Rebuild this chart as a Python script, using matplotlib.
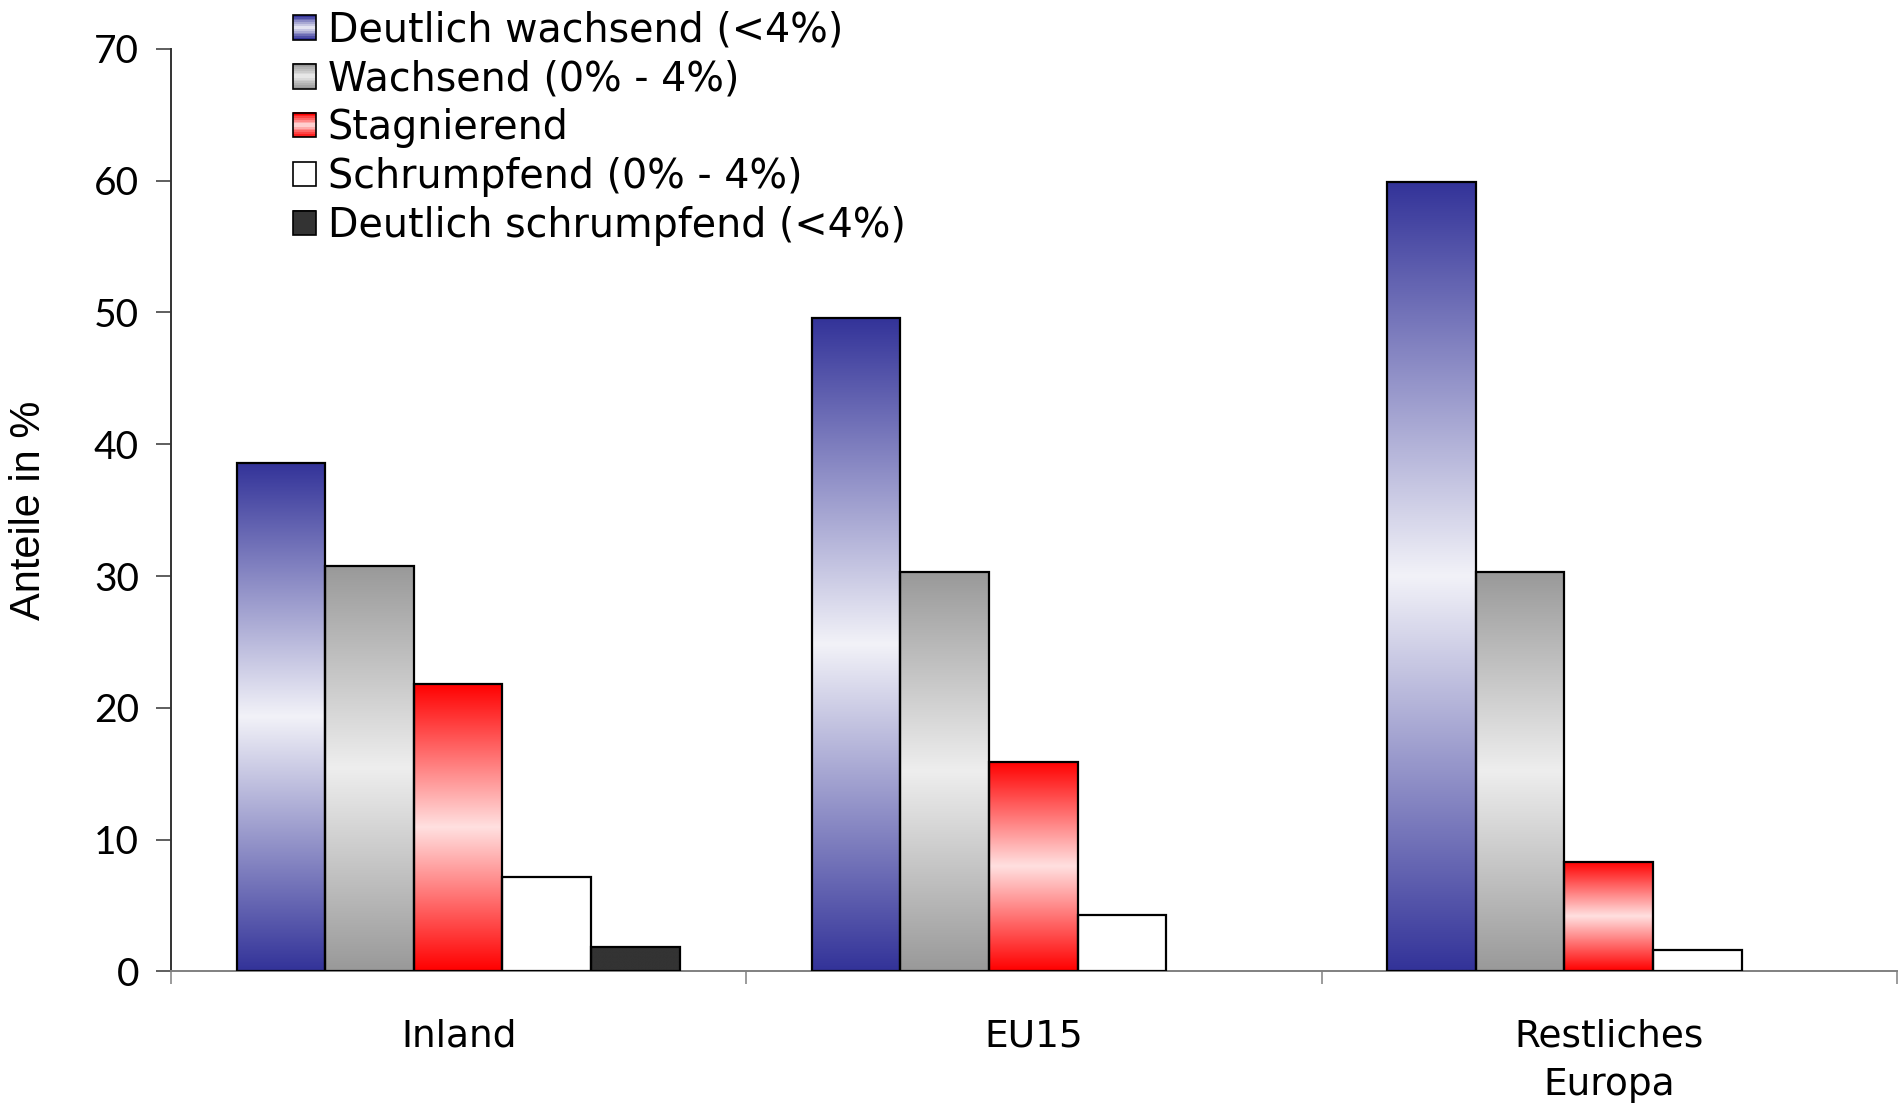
import numpy as np
import matplotlib.pyplot as plt
from matplotlib.colors import to_rgb
from matplotlib.patches import Rectangle
from matplotlib.legend_handler import HandlerBase

# Daten
kategorien = ["Inland", "EU15", "Restliches\nEuropa"]
serien = ["Deutlich wachsend (<4%)", "Wachsend (0% - 4%)", "Stagnierend",
          "Schrumpfend (0% - 4%)", "Deutlich schrumpfend (<4%)"]
deutlich_wachsend = [38.6, 49.6, 59.9]
wachsend = [30.8, 30.3, 30.3]
stagnierend = [21.8, 15.9, 8.3]
schrumpfend = [7.2, 4.3, 1.6]
deutlich_schrumpfend = [1.85, 0, 0]
werte = [deutlich_wachsend, wachsend, stagnierend, schrumpfend, deutlich_schrumpfend]

# Farben: (Rand, Mitte) fuer den Verlauf
farben = [("#333399", "#F2F2F8"), ("#999999", "#EEEEEE"), ("#FF0000", "#FFE0E0"),
          ("#FFFFFF", "#FFFFFF"), ("#333333", "#333333")]

plt.rcParams['font.family'] = ['Lato', 'DejaVu Sans']


def verlauf(rand, mitte, n=256):
    s = np.linspace(0, 1, n)
    t = 1 - np.abs(2 * s - 1)
    a, b = np.array(to_rgb(rand)), np.array(to_rgb(mitte))
    return a + (b - a) * t[:, None]


class VerlaufHandler(HandlerBase):
    def create_artists(self, legend, orig_handle, xdescent, ydescent,
                       width, height, fontsize, trans):
        rand, mitte = orig_handle.verlauf
        n = 14
        cols = verlauf(rand, mitte, n)
        artists = []
        for k in range(n):
            r = Rectangle((-xdescent, -ydescent + height * k / n), width, height / n + 0.3,
                          facecolor=cols[k], edgecolor='none', transform=trans)
            artists.append(r)
        artists.append(Rectangle((-xdescent, -ydescent), width, height, facecolor='none',
                                 edgecolor='black', linewidth=1.2, transform=trans))
        return artists


fig = plt.figure(figsize=(19.04, 11.09), dpi=100)
ax = fig.add_axes([0.0898, 0.124, 0.9065, 0.832])

breite = 0.154
start = 0.114
for j, (reihe, (rand, mitte)) in enumerate(zip(werte, farben)):
    for i, h in enumerate(reihe):
        if h <= 0:
            continue
        x0 = i + start + j * breite
        bars = ax.bar(x0, h, width=breite, align='edge', facecolor='none',
                      edgecolor='black', linewidth=1.6, zorder=3)
        rect = bars[0]
        img = verlauf(rand, mitte)[:, None, :]
        im = ax.imshow(img, extent=(x0, x0 + breite, 0, h), aspect='auto',
                       origin='lower', interpolation='bilinear', zorder=2)
        im.set_clip_path(rect)

ax.set_xlim(0, 3)
ax.set_ylim(0, 70)

ax.spines['top'].set_visible(False)
ax.spines['right'].set_visible(False)
ax.spines['left'].set_color('#333333')
ax.spines['bottom'].set_color('#808080')
ax.spines['left'].set_linewidth(1.4)
ax.spines['bottom'].set_linewidth(1.4)

ax.set_yticks(np.arange(0, 71, 10))
ax.tick_params(axis='y', length=11, width=1.1, color='#333333', labelsize=28, pad=12)
ax.set_xticks([0, 1, 2, 3])
ax.set_xticklabels([])
ax.set_xticks([0.5, 1.5, 2.5], minor=True)
ax.set_xticklabels(kategorien, minor=True, fontsize=27, linespacing=1.45,
                   family=['DejaVu Sans'])
ax.tick_params(axis='x', which='major', length=9, width=1.1, color='#808080')
ax.tick_params(axis='x', which='minor', length=0, pad=34)

ax.set_ylabel("Anteile in %", fontsize=30, family=['Liberation Sans Narrow', 'Liberation Sans'],
              labelpad=32)

handles = []
for (rand, mitte) in farben:
    p = Rectangle((0, 0), 1, 1)
    p.verlauf = (rand, mitte)
    handles.append(p)
fig.legend(handles, serien, loc='upper left', bbox_to_anchor=(0.1455, 1.005),
           frameon=False, prop={'family': 'DejaVu Sans', 'size': 28.5},
           handlelength=0.58, handleheight=0.58,
           handletextpad=0.3, labelspacing=0.225, borderaxespad=0,
           handler_map={Rectangle: VerlaufHandler()})

fig.savefig("out.png", dpi=100)
